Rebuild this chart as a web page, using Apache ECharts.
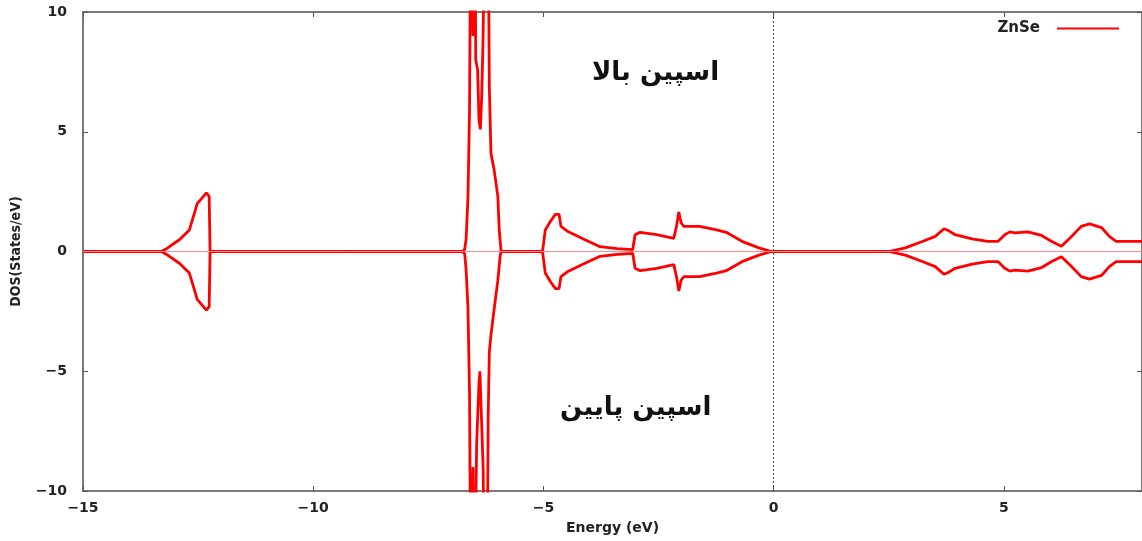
<!DOCTYPE html>
<html>
<head>
<meta charset="utf-8">
<script src="https://cdn.jsdelivr.net/npm/echarts@6/dist/echarts.min.js"></script>
<style>html,body{margin:0;padding:0;background:#fff}#c{width:1142px;height:541px}</style>
</head>
<body>
<div id="c"></div>
<script>
// Spin-up DOS (energy in eV, DOS in states/eV)
const upEnergy = [-15,-13.30,-13.20,-12.90,-12.69,-12.58,-12.52,-12.32,-12.26,-12.24,
  -6.75,-6.71,-6.68,-6.64,-6.605,-6.58,-6.55,-6.53,-6.51,-6.48,-6.47,-6.43,-6.40,-6.37,-6.34,-6.31,-6.28,-6.20,-6.175,-6.14,-6.07,-5.99,-5.96,-5.92,
  -5.02,-4.96,-4.85,-4.74,-4.66,-4.62,-4.48,-4.11,-3.77,-3.40,-3.06,-3.01,-2.90,-2.54,-2.17,-2.11,-2.06,-2.01,-1.95,-1.61,-1.24,-1.03,-0.66,-0.32,-0.05,
  2.50,2.86,3.23,3.51,3.70,3.79,3.94,4.31,4.65,4.87,5.02,5.13,5.24,5.52,5.82,6.04,6.25,6.47,6.68,6.86,7.12,7.29,7.44,8.0];
const upDos = [0,0,0.1,0.5,0.9,1.6,2.0,2.45,2.3,0,
  0,0.1,0.5,2.2,5.9,14,14,9,14,12,8.0,7.6,5.5,5.1,6.5,9,14,14,6.9,4.1,3.4,2.3,0.9,0,
  0,0.9,1.25,1.55,1.55,1.05,0.85,0.5,0.2,0.12,0.08,0.7,0.8,0.7,0.55,1.05,1.65,1.2,1.05,1.05,0.9,0.8,0.4,0.15,0,
  0,0.15,0.42,0.63,0.95,0.88,0.7,0.53,0.42,0.42,0.7,0.82,0.78,0.82,0.67,0.42,0.22,0.63,1.05,1.15,1.0,0.63,0.42,0.42];
// Spin-down DOS
const dnEnergy = [-15,-13.30,-13.20,-12.90,-12.69,-12.58,-12.52,-12.32,-12.26,-12.24,
  -6.75,-6.71,-6.68,-6.64,-6.605,-6.58,-6.55,-6.53,-6.51,-6.48,-6.45,-6.40,-6.38,-6.35,-6.31,-6.28,-6.22,-6.20,-6.175,-6.14,-6.07,-5.99,-5.94,-5.92,
  -5.02,-4.96,-4.85,-4.74,-4.66,-4.62,-4.48,-4.11,-3.77,-3.40,-3.06,-3.01,-2.90,-2.54,-2.17,-2.11,-2.06,-2.01,-1.95,-1.61,-1.24,-1.03,-0.66,-0.32,-0.05,
  2.50,2.86,3.23,3.51,3.70,3.79,3.94,4.31,4.65,4.87,5.02,5.13,5.24,5.52,5.82,6.04,6.25,6.47,6.68,6.86,7.12,7.29,7.44,8.0];
const dnDos = [0,0,-0.1,-0.5,-0.9,-1.6,-2.0,-2.45,-2.3,0,
  0,-0.1,-0.75,-2.3,-5.9,-14,-14,-9,-14,-12,-8.0,-5.5,-5.0,-6.7,-9,-14,-14,-6.9,-4.2,-3.5,-2.4,-1.2,-0.2,0,
  0,-0.9,-1.25,-1.55,-1.55,-1.05,-0.85,-0.5,-0.2,-0.12,-0.08,-0.7,-0.8,-0.7,-0.55,-1.05,-1.65,-1.2,-1.05,-1.05,-0.9,-0.8,-0.4,-0.15,0,
  0,-0.15,-0.42,-0.63,-0.95,-0.88,-0.7,-0.53,-0.42,-0.42,-0.7,-0.82,-0.78,-0.82,-0.67,-0.42,-0.22,-0.63,-1.05,-1.15,-1.0,-0.63,-0.42,-0.42];
const xTicks = {min: -15, max: 8, interval: 5};
const yTicks = {min: -10, max: 10, interval: 5};
const seriesName = 'ZnSe';
const spinUpLabel = 'اسپین بالا';
const spinDownLabel = 'اسپین پایین';

const upData = upEnergy.map((e, i) => [e, upDos[i]]);
const dnData = dnEnergy.map((e, i) => [e, dnDos[i]]);

const tickFont = {fontFamily: 'DejaVu Sans', fontWeight: 'bold', fontSize: 14, color: '#222'};
const minusFmt = v => String(v).replace('-', '\u2212');
const axisLineStyle = {color: '#7a7a7a', width: 2};
const tickStyle = {show: true, inside: true, length: 5, lineStyle: {color: '#555', width: 1}};

const chart = echarts.init(document.getElementById('c'), null, {renderer: 'canvas'});
chart.setOption({
  animation: false,
  backgroundColor: '#fff',
  grid: {left: 83, right: -3, top: 12, bottom: 50},
  legend: {
    data: [seriesName], right: 18, top: 16, align: 'right', icon: 'rect',
    itemWidth: 62, itemHeight: 2,
    textStyle: {fontFamily: 'DejaVu Sans', fontWeight: 'bold', fontSize: 15, color: '#222', padding: [0, 12, 0, 0]}
  },
  xAxis: [{
    type: 'value', position: 'bottom', min: xTicks.min, max: xTicks.max, interval: xTicks.interval,
    axisLine: {show: true, onZero: false, lineStyle: axisLineStyle},
    axisTick: tickStyle,
    axisLabel: Object.assign({margin: 10, showMaxLabel: false, formatter: minusFmt}, tickFont),
    splitLine: {show: false},
    name: 'Energy (eV)', nameLocation: 'middle', nameGap: 30,
    nameTextStyle: {fontFamily: 'DejaVu Sans', fontWeight: 'bold', fontSize: 14, color: '#222'}
  }, {
    type: 'value', position: 'top', min: xTicks.min, max: xTicks.max, interval: xTicks.interval,
    axisLine: {show: true, onZero: false, lineStyle: axisLineStyle},
    axisTick: tickStyle, axisLabel: {show: false}, splitLine: {show: false}
  }],
  yAxis: [{
    type: 'value', position: 'left', min: yTicks.min, max: yTicks.max, interval: yTicks.interval,
    axisLine: {show: true, onZero: false, lineStyle: axisLineStyle},
    axisTick: tickStyle,
    axisLabel: Object.assign({margin: 16, formatter: minusFmt}, tickFont),
    splitLine: {show: false},
    name: 'DOS(States/eV)', nameLocation: 'middle', nameGap: 60, nameRotate: 90,
    nameTextStyle: {fontFamily: 'Liberation Sans Narrow, DejaVu Sans Condensed, sans-serif', fontWeight: 'bold', fontSize: 14, color: '#222'}
  }, {
    type: 'value', position: 'right', min: yTicks.min, max: yTicks.max, interval: yTicks.interval,
    axisLine: {show: true, onZero: false, lineStyle: axisLineStyle},
    axisTick: tickStyle, axisLabel: {show: false}, splitLine: {show: false}
  }],
  series: [{
    name: seriesName, type: 'line', data: upData, showSymbol: false, symbol: 'none',
    color: '#ff0000', lineStyle: {color: '#ff0000', width: 2.8}, z: 3,
    markLine: {
      silent: true, symbol: 'none', label: {show: false},
      data: [
        {xAxis: 0, lineStyle: {color: '#444', type: [2, 2], width: 1}},
        {yAxis: 0, lineStyle: {color: '#ff8c8c', type: 'solid', width: 1}}
      ]
    }
  }, {
    name: seriesName, type: 'line', data: dnData, showSymbol: false, symbol: 'none',
    color: '#ff0000', lineStyle: {color: '#ff0000', width: 2.8}, z: 3
  }],
  graphic: [
    {type: 'text', left: 592, top: 60, style: {text: spinUpLabel, fontFamily: 'DejaVu Sans', fontWeight: 'bold', fontSize: 26, fill: '#111'}},
    {type: 'text', left: 560, top: 395, style: {text: spinDownLabel, fontFamily: 'DejaVu Sans', fontWeight: 'bold', fontSize: 26, fill: '#111'}}
  ]
});
</script>
</body>
</html>
